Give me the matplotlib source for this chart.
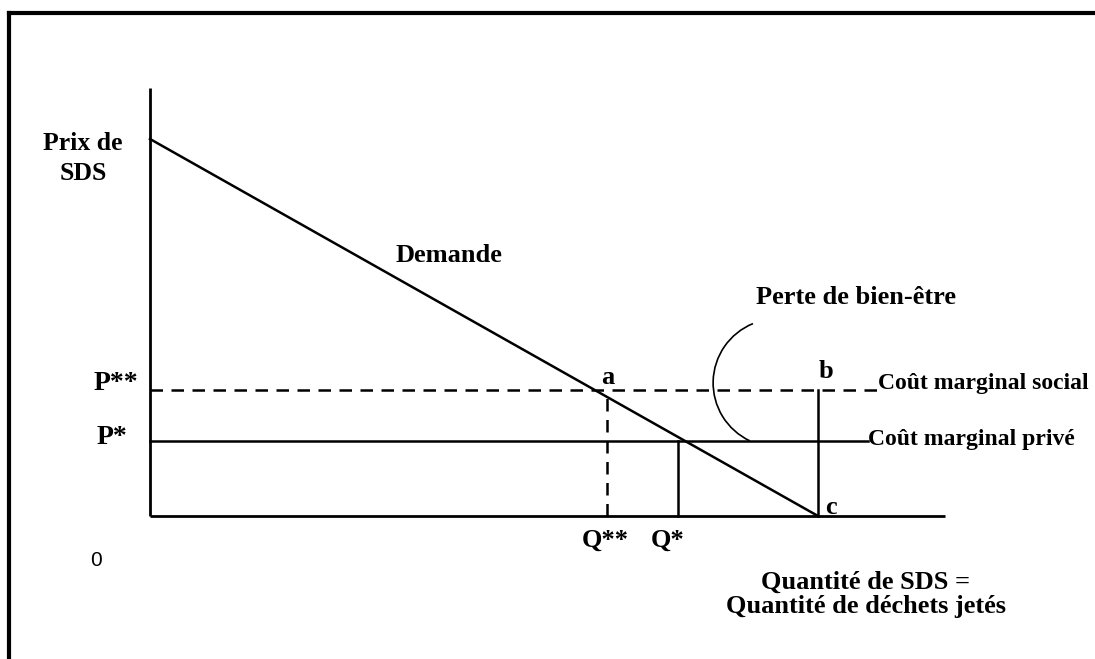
"""Diagramme : perte de bien-être liée aux déchets (SDS), coût marginal privé vs social."""
import matplotlib
matplotlib.use("Agg")
import matplotlib.pyplot as plt
from matplotlib.patches import Arc
from matplotlib.lines import Line2D

W, H = 1095, 659

# données du diagramme (unités arbitraires : prix / quantité)
demand_q = [0.0, 10.0]
demand_p = [10.0, 0.0]
P_SOCIAL = 3.34       # P**
P_PRIVE = 2.0         # P*
Q_SOCIAL = 6.84       # Q**
Q_PRIVE = 7.9         # Q*
Q_C = 10.0            # point c (demande nulle)
Q_AXIS_END = 11.9
P_AXIS_END = 11.35
Q_END_SOCIAL = 11.0   # fin de la droite Coût marginal social
Q_END_PRIVE = 10.75   # fin de la droite Coût marginal privé

# arc "Perte de bien-être"
ARC_CENTER = (9.39, 3.53)
ARC_W, ARC_H = 1.92, 3.4
ARC_THETA = (103, 255)

# échelle : pixels par unité, origine en pixels
X0, Y0 = 150, 516
SX, SY = 66.8, 37.7

SERIF = ["Liberation Serif", "DejaVu Serif"]

fig = plt.figure(figsize=(W / 100, H / 100), dpi=100)
ax = fig.add_axes([0, 0, 1, 1])
ax.set_xlim(-X0 / SX, (W - X0) / SX)
ax.set_ylim((Y0 - H) / SY, Y0 / SY)
ax.axis("off")

lw = 1.8
# axes
ax.plot([0, 0], [0, P_AXIS_END], color="black", lw=2.0, solid_capstyle="butt")
ax.plot([0, Q_AXIS_END], [0, 0], color="black", lw=2.0, solid_capstyle="butt")

# demande
ax.plot(demand_q, demand_p, color="black", lw=lw)

# coût marginal social (tirets) et privé
ax.plot([0, Q_END_SOCIAL], [P_SOCIAL, P_SOCIAL], color="black", lw=lw,
        dashes=(5.0, 3.4))
ax.plot([0, Q_END_PRIVE], [P_PRIVE, P_PRIVE], color="black", lw=lw)

# verticales
ax.plot([Q_SOCIAL, Q_SOCIAL], [0, P_SOCIAL], color="black", lw=lw,
        dashes=(5.0, 3.4))
ax.plot([Q_PRIVE, Q_PRIVE], [0, P_PRIVE], color="black", lw=lw)
ax.plot([Q_C, Q_C], [0, P_SOCIAL], color="black", lw=lw)

ax.add_patch(Arc(ARC_CENTER, ARC_W, ARC_H, theta1=ARC_THETA[0],
                 theta2=ARC_THETA[1], color="black", lw=1.2))

# cadre (coupé à droite et en bas)
fig.add_artist(Line2D([9 / W, 9 / W], [0, 1 - 13 / H], color="black", lw=3.0,
                      transform=fig.transFigure))
fig.add_artist(Line2D([9 / W, 1], [1 - 13 / H, 1 - 13 / H], color="black",
                      lw=3.0, transform=fig.transFigure))


def label(x, y, s, size=19, ha="center", family=SERIF, weight="bold"):
    fig.text(x / W, 1 - y / H, s, ha=ha, va="center", fontsize=size,
             family=family, weight=weight)


label(83, 144, "Prix de", size=18.5)
label(83, 174, "SDS", size=18.5)
label(116, 384, "P**", size=20)
label(112, 438, "P*", size=20)
label(96, 560, "0", size=15, family=["Liberation Sans", "DejaVu Sans"],
      weight="normal")
label(449, 255, "Demande")
label(856, 298, "Perte de bien-être")
label(608, 377, "a")
label(826, 372, "b")
label(831, 508, "c")
label(605, 540, "Q**")
label(668, 540, "Q*")
label(878, 383, "Coût marginal social", size=17, ha="left")
label(868, 440, "Coût marginal privé", size=17, ha="left")
label(866, 582, "Quantité de SDS =")
label(866, 606, "Quantité de déchets jetés")

fig.savefig("out.png", dpi=100)
